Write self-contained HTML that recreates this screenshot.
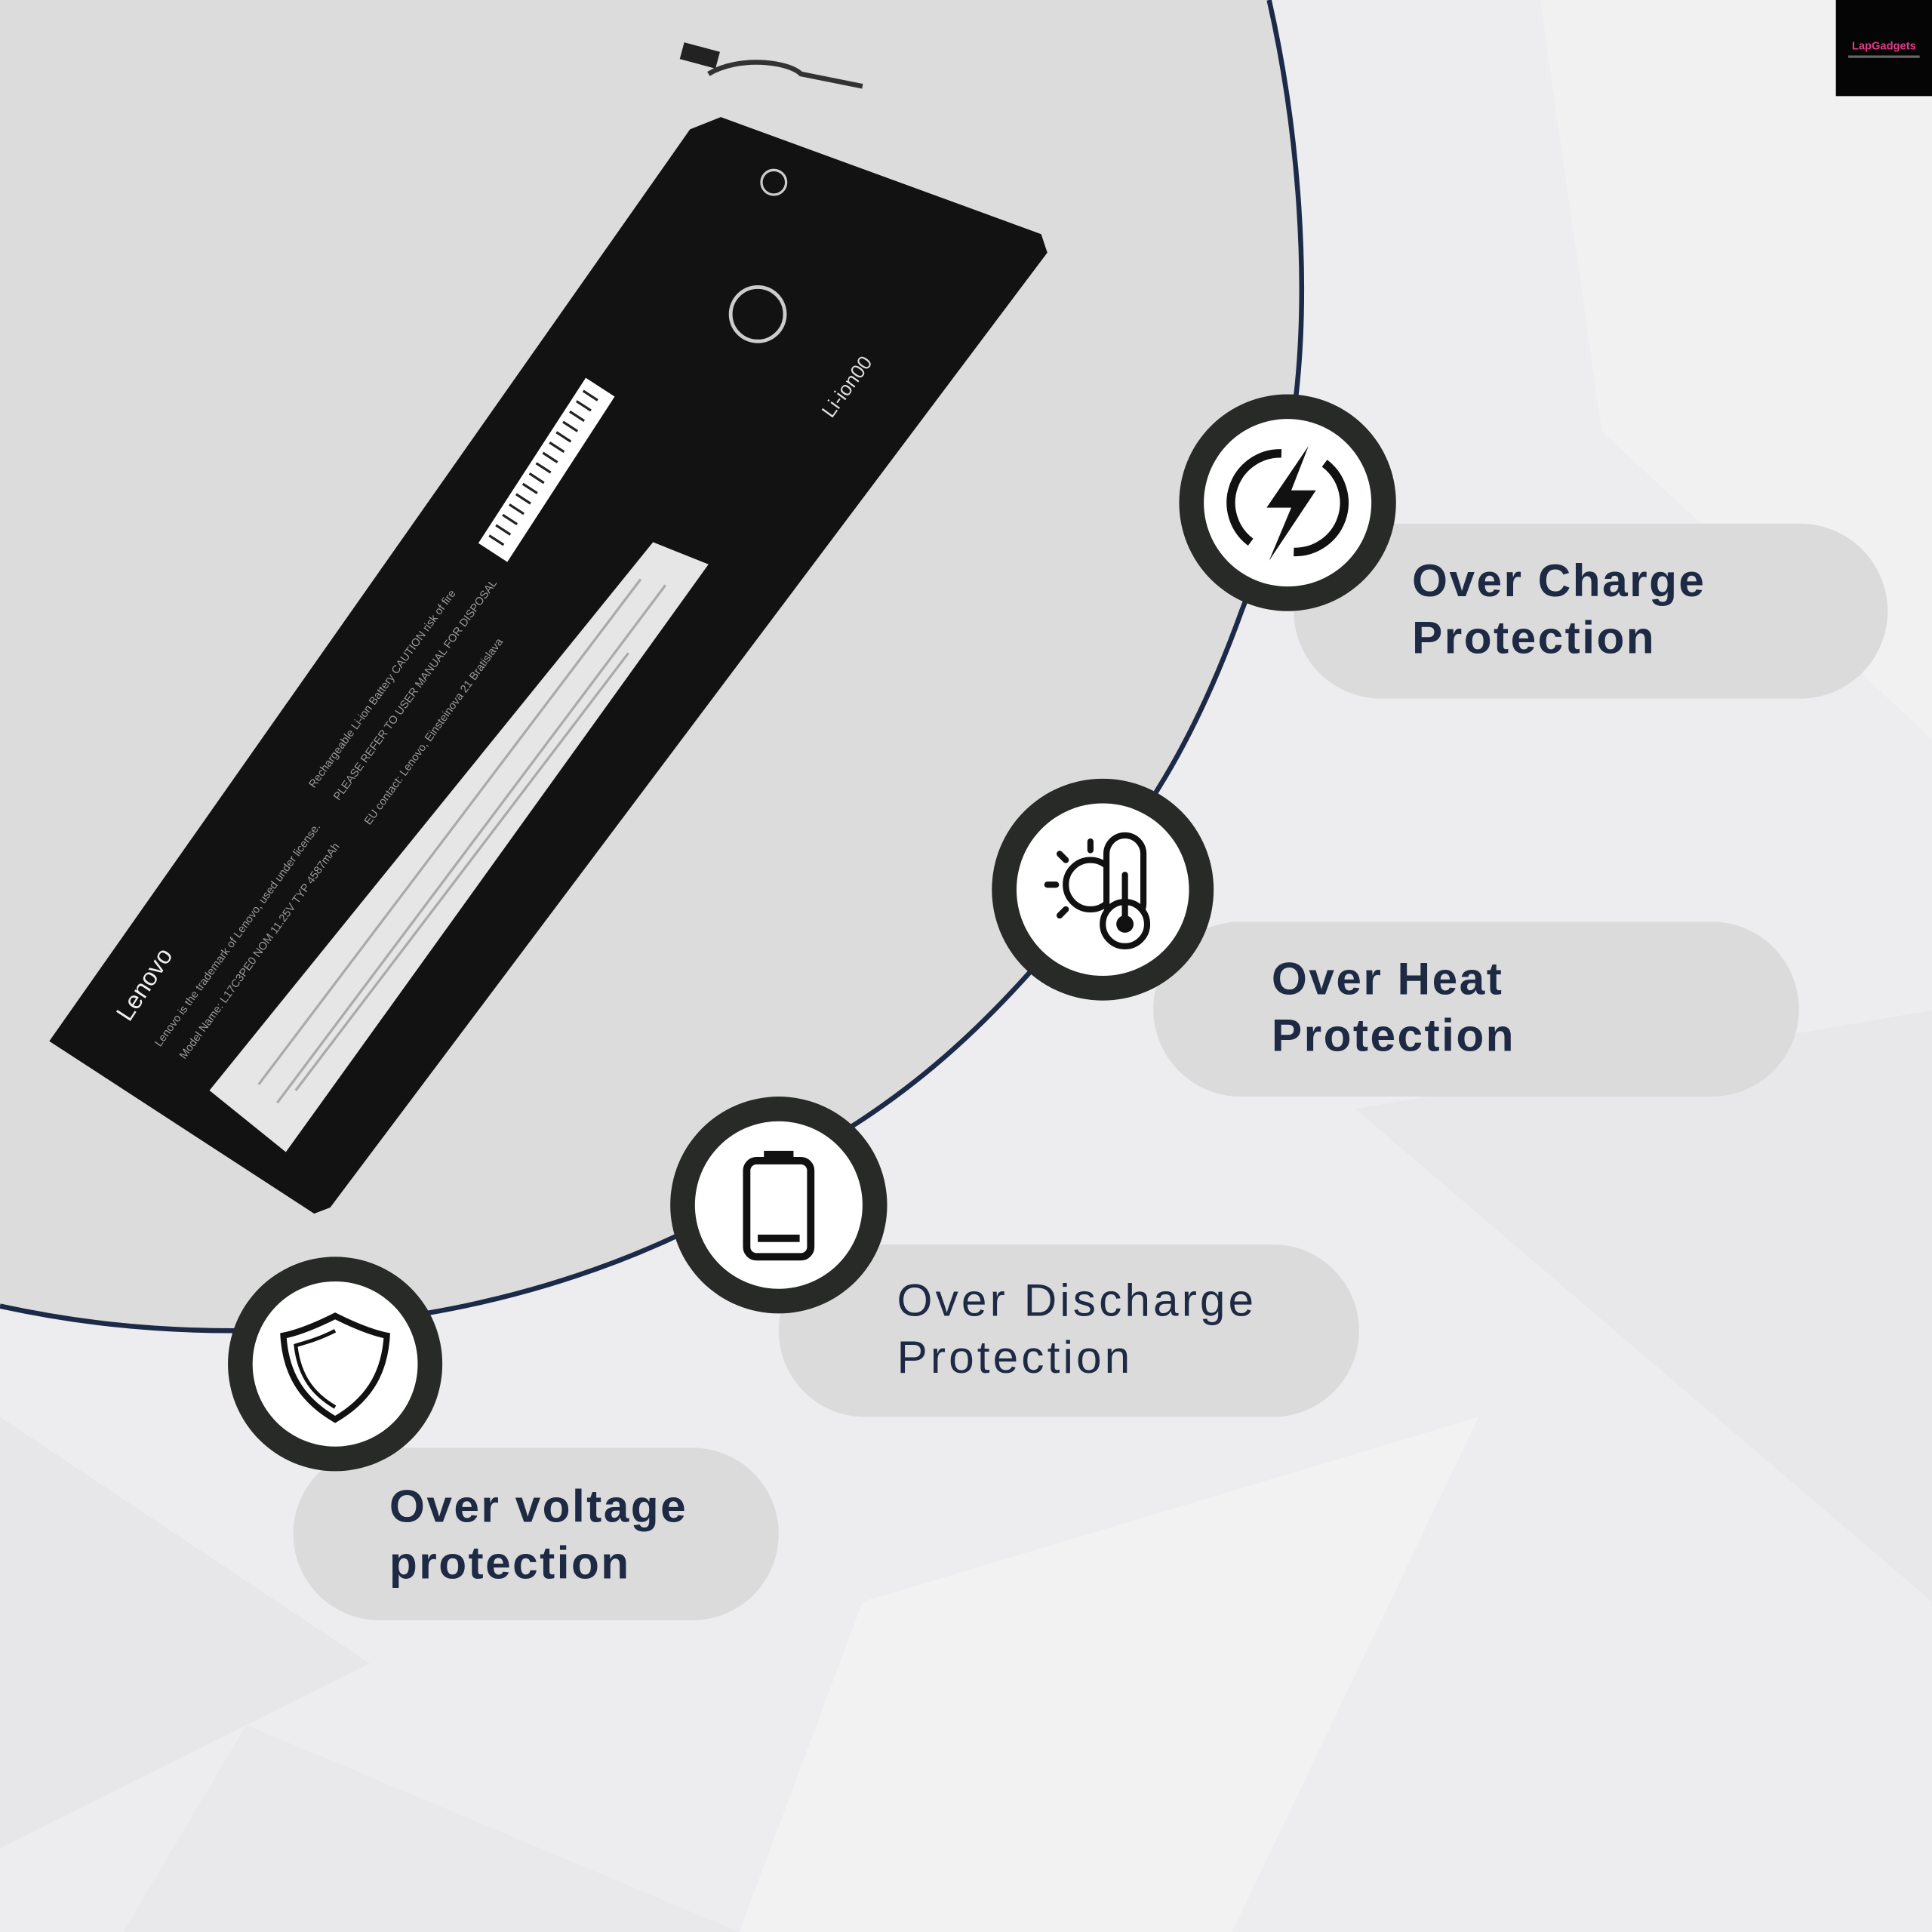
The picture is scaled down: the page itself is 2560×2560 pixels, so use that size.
<!DOCTYPE html>
<html><head><meta charset="utf-8"><style>
html,body{margin:0;padding:0;background:#ececee;}
svg{display:block;}
</style></head><body>
<svg width="2560" height="2560" viewBox="0 0 1568 1568" xmlns="http://www.w3.org/2000/svg">
<rect width="1568" height="1568" fill="#ededef"/>
<polygon points="1100,900 1568,820 1568,1300" fill="#e4e4e6" opacity="0.6"/>
<polygon points="700,1300 1200,1150 1000,1568 600,1568" fill="#f3f3f4" opacity="0.8"/>
<polygon points="0,1150 300,1350 0,1500" fill="#e3e3e5" opacity="0.6"/>
<polygon points="1250,0 1568,0 1568,600 1300,350" fill="#f1f1f3" opacity="0.8"/>
<polygon points="200,1400 600,1568 100,1568" fill="#e6e6e8" opacity="0.6"/>
<path d="M0,0 L1030,0 C1055,110 1062,230 1052,320 C1042,390 1030,440 1008,495 C990,545 968,595 940,640 C910,690 875,745 835,790 C790,840 745,880 690,915 C640,950 600,980 545,1005 C480,1035 410,1055 345,1066 C290,1075 240,1080 190,1080 C120,1080 60,1073 0,1060 Z" fill="#dcdcdd"/>
<path d="M1030,0 C1055,110 1062,230 1052,320 C1042,390 1030,440 1008,495 C990,545 968,595 940,640 C910,690 875,745 835,790 C790,840 745,880 690,915 C640,950 600,980 545,1005 C480,1035 410,1055 345,1066 C290,1075 240,1080 190,1080 C120,1080 60,1073 0,1060" fill="none" stroke="#1c2a48" stroke-width="4"/>

<polygon points="40,845 560,105 585,95 845,190 850,205 268,980 255,985" fill="#121212"/>
<path d="M575,60 C600,45 640,50 650,60 L700,70" stroke="#333" stroke-width="4" fill="none"/>
<rect x="553" y="38" width="30" height="14" fill="#222" transform="rotate(15 568 45)"/>
<polygon points="170,885 530,440 575,458 232,935" fill="#e6e6e6"/>
<g stroke="#aaa" stroke-width="2">
<line x1="210" y1="880" x2="520" y2="470"/>
<line x1="225" y1="895" x2="540" y2="475"/>
<line x1="240" y1="885" x2="510" y2="530"/>
</g>
<g transform="rotate(-57 440 385)">
<rect x="365" y="372" width="160" height="28" fill="#fff"/>
<g stroke="#222" stroke-width="2">
<line x1="375" y1="376" x2="375" y2="390"/><line x1="385" y1="376" x2="385" y2="390"/><line x1="395" y1="376" x2="395" y2="390"/><line x1="405" y1="376" x2="405" y2="390"/><line x1="415" y1="376" x2="415" y2="390"/><line x1="425" y1="376" x2="425" y2="390"/><line x1="435" y1="376" x2="435" y2="390"/><line x1="445" y1="376" x2="445" y2="390"/><line x1="455" y1="376" x2="455" y2="390"/><line x1="465" y1="376" x2="465" y2="390"/><line x1="475" y1="376" x2="475" y2="390"/><line x1="485" y1="376" x2="485" y2="390"/><line x1="495" y1="376" x2="495" y2="390"/><line x1="505" y1="376" x2="505" y2="390"/><line x1="515" y1="376" x2="515" y2="390"/>
</g>
</g>
<text transform="translate(105,830) rotate(-57)" font-family="Liberation Sans, sans-serif" font-size="20" fill="#eee">Lenovo</text>
<g fill="#9a9a9a" font-family="Liberation Sans, sans-serif" font-size="9">
<text transform="translate(130,850) rotate(-54)">Lenovo is the trademark of Lenovo, used under license.</text>
<text transform="translate(150,860) rotate(-54)">Model Name: L17C3PE0 NOM 11.25V TYP 4587mAh</text>
<text transform="translate(255,640) rotate(-54)">Rechargeable Li-ion Battery CAUTION risk of fire</text>
<text transform="translate(275,650) rotate(-54)">PLEASE REFER TO USER MANUAL FOR DISPOSAL</text>
<text transform="translate(300,670) rotate(-54)">EU contact: Lenovo, Einsteinova 21 Bratislava</text>
</g>
<text transform="translate(675,340) rotate(-54)" font-family="Liberation Sans, sans-serif" font-size="16" fill="#ddd">Li-ion00</text>
<circle cx="615" cy="255" r="22" fill="none" stroke="#ccc" stroke-width="3"/>
<circle cx="628" cy="148" r="10" fill="none" stroke="#ccc" stroke-width="2"/>

<rect x="1490" y="0" width="78" height="78" fill="#050505"/>
<text x="1529" y="40" font-family="Liberation Sans, sans-serif" font-size="9" font-weight="bold" fill="#e23b8a" text-anchor="middle">LapGadgets</text>
<rect x="1500" y="45" width="58" height="2" fill="#666"/>

<g fill="#dbdbdc">
<rect x="1050" y="425" width="482" height="142" rx="71"/>
<rect x="936" y="748" width="524" height="142" rx="71"/>
<rect x="632" y="1010" width="471" height="140" rx="70"/>
<rect x="238" y="1175" width="394" height="140" rx="70"/>
</g>
<g font-family="Liberation Sans, sans-serif" font-size="37" fill="#1e2a44">
<g font-weight="bold" letter-spacing="1.5">
<text x="1146" y="484">Over Charge</text>
<text x="1146" y="530">Protection</text>
<text x="1032" y="807">Over Heat</text>
<text x="1032" y="853">Protection</text>
<text x="316" y="1235">Over voltage</text>
<text x="316" y="1281">protection</text>
</g>
<g letter-spacing="2.5">
<text x="728" y="1068">Over Discharge</text>
<text x="728" y="1114">Protection</text>
</g>
</g>

<circle cx="1045" cy="408" r="88" fill="#272a26"/><circle cx="1045" cy="408" r="68" fill="#fff"/>
<circle cx="895" cy="722" r="90" fill="#272a26"/><circle cx="895" cy="722" r="70" fill="#fff"/>
<circle cx="632" cy="978" r="88" fill="#272a26"/><circle cx="632" cy="978" r="68" fill="#fff"/>
<circle cx="272" cy="1107" r="87" fill="#272a26"/><circle cx="272" cy="1107" r="67" fill="#fff"/>
<path d="M1015,440 A40,40 0 0 1 1040,368" fill="none" stroke="#111" stroke-width="7"/>
<path d="M1075,376 A40,40 0 0 1 1050,448" fill="none" stroke="#111" stroke-width="7"/>
<polygon points="1062,362 1028,412 1048,412 1030,455 1068,398 1048,398" fill="#111"/>
<g stroke="#111" stroke-width="5" fill="none" stroke-linecap="round">
<circle cx="885" cy="718" r="20"/>
<line x1="885" y1="683" x2="885" y2="690"/><line x1="850" y1="718" x2="857" y2="718"/>
<line x1="860" y1="693" x2="865" y2="698"/><line x1="860" y1="743" x2="865" y2="738"/>
<rect x="898" y="678" width="30" height="70" rx="15" fill="#fff"/>
<circle cx="913" cy="750" r="18" fill="#fff"/>
<line x1="913" y1="710" x2="913" y2="745"/>
</g>
<circle cx="913" cy="750" r="7" fill="#111"/>
<rect x="606" y="942" width="52" height="78" rx="8" fill="none" stroke="#111" stroke-width="6"/>
<rect x="620" y="934" width="24" height="8" fill="#111"/>
<rect x="615" y="1002" width="34" height="6" fill="#111"/>
<path d="M272,1068 C252,1078 240,1082 230,1084 C232,1118 248,1138 272,1152 C296,1138 312,1118 314,1084 C304,1082 292,1078 272,1068 Z" fill="none" stroke="#111" stroke-width="5"/>
<path d="M272,1080 C256,1088 246,1090 240,1092 C243,1118 255,1132 272,1142" fill="none" stroke="#111" stroke-width="3"/>
</svg>
</body></html>
